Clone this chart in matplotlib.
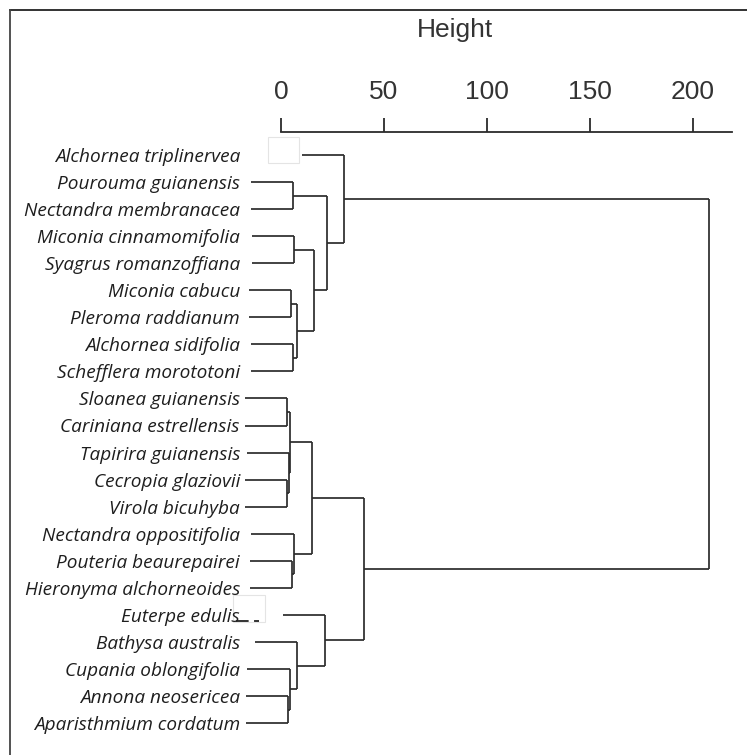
import matplotlib
matplotlib.use('Agg')
import matplotlib.pyplot as plt
from matplotlib.patches import Rectangle
from matplotlib.lines import Line2D

# leaves, top to bottom
species = [
    'Alchornea triplinervea', 'Pourouma guianensis', 'Nectandra membranacea',
    'Miconia cinnamomifolia', 'Syagrus romanzoffiana', 'Miconia cabucu',
    'Pleroma raddianum', 'Alchornea sidifolia', 'Schefflera morototoni',
    'Sloanea guianensis', 'Cariniana estrellensis', 'Tapirira guianensis',
    'Cecropia glaziovii', 'Virola bicuhyba', 'Nectandra oppositifolia',
    'Pouteria beaurepairei', 'Hieronyma alchorneoides', 'Euterpe edulis',
    'Bathysa australis', 'Cupania oblongifolia', 'Annona neosericea',
    'Aparisthmium cordatum',
]

# merges (hclust style): node n+k joins merge_left[k] and merge_right[k]
merge_left = [12, 9, 20, 11, 19, 23, 5, 15, 1, 7, 14, 3, 28, 18, 27, 33, 17, 30, 0, 36, 40]
merge_right = [13, 10, 21, 22, 24, 25, 6, 16, 2, 8, 29, 4, 31, 26, 32, 34, 35, 37, 39, 38, 41]
merge_height = [2.8, 3.0, 3.4, 4.0, 4.2, 4.6, 4.9, 5.4, 5.8, 5.8, 6.1, 6.3, 7.8, 7.8,
                15.0, 16.0, 21.4, 22.3, 30.6, 40.3, 207.8]

height_ticks = [0, 50, 100, 150, 200]

n = len(species)
hang = 0.1 * (max(merge_height) - min(merge_height))
line_col = '#2b2b2b'

fig = plt.figure(figsize=(7.47, 7.55), dpi=100)
ax = fig.add_axes([0, 0, 1, 1])
ax.patch.set_visible(False)

# px -> data: x = 281 + 2.06*v ; y = 155 + 27.05*i
ax.set_xlim(-281 / 2.06, (747 - 281) / 2.06)
ax.set_ylim((755 - 155) / 27.05, -155 / 27.05)

ypos = {i: float(i) for i in range(n)}
xpos = {}
for k in range(len(merge_height)):
    a, b, h = merge_left[k], merge_right[k], merge_height[k]
    for c in (a, b):
        x0 = xpos[c] if c in xpos else h - hang
        ax.plot([x0, h], [ypos[c], ypos[c]], color=line_col, lw=1.25,
                solid_capstyle='butt')
    ax.plot([h, h], [ypos[a], ypos[b]], color=line_col, lw=1.25,
            solid_capstyle='butt')
    node = n + k
    ypos[node] = (ypos[a] + ypos[b]) / 2
    xpos[node] = h

# height axis on top
for s in ['bottom', 'right', 'left']:
    ax.spines[s].set_visible(False)
ax.spines['top'].set_position(('data', (132 - 155) / 27.05))
ax.spines['top'].set_bounds(0, (732 - 281) / 2.06)
ax.spines['top'].set_color(line_col)
ax.spines['top'].set_linewidth(1.3)
ax.xaxis.tick_top()
ax.set_xticks(height_ticks)
ax.tick_params(axis='x', direction='out', length=10, width=1.3, pad=10,
               labelsize=19, colors=line_col)
for t in ax.get_xticklabels():
    t.set_fontfamily('Liberation Sans')
    t.set_color('#333333')
ax.xaxis.set_label_position('top')
ax.set_xlabel('Height', fontsize=19, fontfamily='Liberation Sans', color='#333333')
ax.xaxis.set_label_coords(455 / 747, 1 - 37 / 755)

# leaf labels through the y axis
ax.spines['left'].set_position(('data', (240 - 281) / 2.06))
ax.set_yticks(range(n))
ax.set_yticklabels(species, fontsize=13.7, fontfamily='Open Sans', style='italic',
                   color='#1e1e1e')
ax.tick_params(axis='y', length=0, pad=0)


def fx(px):
    return px / 747


def fy(py):
    return 1 - py / 755


# frame on top and left of the picture
fig.add_artist(Line2D([fx(10), 1], [fy(10), fy(10)], color='#222222', lw=1.3))
fig.add_artist(Line2D([fx(10), fx(10)], [fy(10), 0], color='#444444', lw=1.3))

# white patches pasted over the image
for (x0, y0, x1, y1) in [(268, 137, 299, 163), (233, 595, 265, 622)]:
    fig.add_artist(Rectangle((fx(x0), fy(y1)), fx(x1) - fx(x0), fy(y0) - fy(y1),
                             facecolor='white', edgecolor='#e4e4e4', lw=0.8,
                             zorder=-1))
fig.add_artist(Line2D([fx(236), fx(259)], [fy(621), fy(621)], color='#222222',
                      lw=1.3, dashes=(7, 3)))

fig.savefig('out.png', dpi=100)
